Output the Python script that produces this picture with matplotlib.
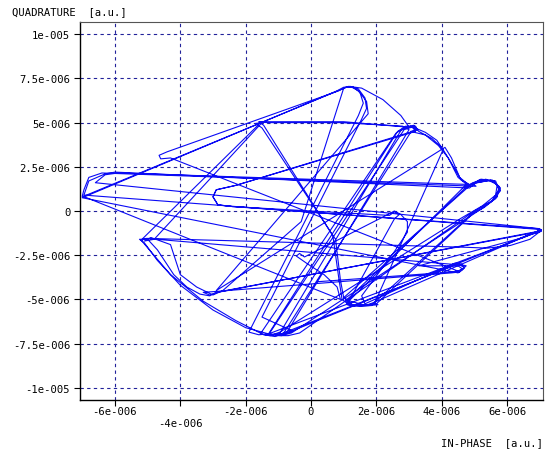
import numpy as np
import matplotlib
matplotlib.use("Agg")
import matplotlib.pyplot as plt
from matplotlib.ticker import FixedLocator

# Impedance-plane trace, in units of 1e-6 (a.u.)
in_phase = [
    # sweep 1
    -7.0, 0.95, 1.15, 1.55, 2.2, 2.75, 3.0, 3.2, 3.25, 3.05, 3.5, 3.9, 4.2, 4.5, 4.8,
    5.1, 5.5, 5.75, 5.7, 5.3, 4.9, 1.9, 1.85, 1.2, 0.95, 0.85, 0.67,
    -1.45, -1.6, -1.4, 1.0, 2.9, 3.15, 3.25, 3.05,
    -0.85, -1.1, -1.45, -2.3, -3.3, -4.3, -4.9, -5.2, -5.05,
    4.55, 4.7, 4.55, 4.3, -2.9, -3.3, -3.1, -2.85, 6.95, 7.05, -6.95,
    # sweep 2
    -6.8, -6.3, -6.0, 4.85, 5.05, 5.55, 5.8, 5.65, 5.2,
    -0.6, -0.9, -1.3, 2.85, 3.1, 3.2,
    -2.3, -2.9, -3.0, -2.85, -2.4, 2.4, 2.55, 2.7, 2.55, 1.1,
    1.3, 1.6, 1.2, 1.0, 4.9,
    # sweep 3
    5.15, 5.6, 5.8, 5.5, 5.0,
    -0.35, -0.7, -1.0,
    2.75, 2.95, 3.2, 3.3, 3.7, 4.05,
    1.95, 2.05, 1.5, 1.1,
    4.7, 4.95, 5.05,
    -6.4, -6.8, -6.95, -7.0,
    -3.7, 0.9, 0.8, 0.4, -0.1, -0.45, -0.35, -0.2,
    2.35, 2.55, 2.75, 2.95, 2.95, 2.55, 1.55, 1.65,
    # sweep 4
    4.4, 4.6, 4.7, 4.5,
    -4.3, -4.6, -4.65, -4.4,
    0.85, 1.05, 1.3, 1.5, 1.6, 1.45,
    -1.9, -1.6, -1.3,
    2.65, 2.9, 3.15, 3.2,
    -2.3, -2.9, -3.0, -2.85, -2.4,
    6.95, 7.05, 6.7, 6.1, 5.4, 4.7,
    -5.0, -5.2,
    -1.65, -1.55, -1.35, 0.9, 2.8, 3.0,
    -0.75,
    # sweep 5
    -1.2, -2.0, -3.0, -4.0, -4.7, -5.1, -5.25, -5.0,
    -4.7, -4.2, -3.8, -3.4, -3.1, -2.9,
    6.9, 7.05, 6.5, 3.3, 4.5, 4.65, 4.5,
    # sweep 6
    -7.0, 0.8, 1.0, 1.25, 1.45, 1.7, 1.75,
    -2.9,
    4.1, 4.3, 4.55, 4.85,
    5.2, 5.65, 5.75, 5.55, 5.1,
    2.0, 1.3, 1.05,
    # sweep 7
    4.75, 4.95, 5.35, 5.7, 5.65, 5.25, 4.6,
    -0.95, -1.25, -1.55,
    2.6, 2.85, 3.05, 3.5, 3.85, 4.05, 4.3, 4.6, 4.85,
    -5.9, -6.3, -6.6,
    7.0, 7.05, 6.6,
    1.95, 1.75, 1.3, 1.0, 0.9, 0.75,
    -1.5, -1.7, -1.5,
    -4.8, -5.1, -4.9,
    -4.3, -4.0, -3.5, -3.0, -2.7,
    -0.3, 1.0, 1.2, 1.45, 1.65, 1.7, 1.55,
    -1.5,
    -0.55, -0.9, -1.3,
    7.0, 7.05,
    -0.8, -1.05,
    4.5, 4.75, 4.6, 4.3, 0.2,
]
quadrature = [
    # sweep 1
    0.8, 6.9, 7.05, 6.95, 6.3, 5.4, 4.75, 4.8, 4.6, 4.5, 4.3, 3.7, 3.0, 1.9, 1.45,
    1.6, 1.75, 1.4, 0.8, 0.2, -0.2, -5.25, -5.35, -5.35, -5.0, -3.8, -1.41,
    4.85, 5.05, 5.05, 5.05, 4.75, 4.85, 4.6, 4.45,
    -6.95, -7.1, -7.0, -6.2, -5.1, -3.6, -2.3, -1.65, -1.55,
    -3.05, -3.2, -3.45, -3.5, -4.55, -4.6, -4.75, -4.6, -1.15, -1.05, 0.9,
    # sweep 2
    1.7, 2.1, 2.2, 1.3, 1.6, 1.75, 1.3, 0.7, 0.1,
    -6.9, -7.05, -7.0, 4.6, 4.75, 4.5,
    1.45, 1.2, 0.8, 0.35, 0.25, -0.25, -0.05, -0.2, -0.45, -5.3,
    -5.4, -5.3, -5.1, -4.9, 1.5,
    # sweep 3
    1.75, 1.7, 1.15, 0.5, 0.0,
    -6.9, -7.05, -7.05,
    4.55, 4.75, 4.7, 4.5, 4.1, 3.5,
    -5.2, -5.3, -5.4, -5.2,
    1.4, 1.55, 1.4,
    2.15, 1.9, 1.2, 0.85,
    -1.6, -5.0, -4.3, -3.6, -3.0, -2.55, -2.4, -2.6,
    -0.2, 0.0, -0.2, -0.6, -1.2, -2.3, -4.8, -5.25,
    # sweep 4
    -2.95, -3.0, -3.2, -3.4,
    3.0, 2.95, 3.15, 3.35,
    6.8, 7.0, 7.0, 6.7, 6.1, 5.4,
    -6.85, -7.0, -6.95,
    4.5, 4.8, 4.75, 4.55,
    1.45, 1.2, 0.8, 0.35, 0.25,
    -1.0, -1.1, -1.6, -1.95, -2.1, -2.05,
    -1.55, -1.65,
    4.8, 5.05, 5.0, 5.0, 4.8, 4.6,
    -6.9,
    # sweep 5
    -7.0, -6.6, -5.6, -4.2, -2.8, -1.8, -1.6, -1.6,
    -2.2, -3.6, -4.3, -4.7, -4.8, -4.6,
    -1.2, -1.05, -1.5, -3.1, -3.1, -3.3, -3.5,
    # sweep 6
    0.75, 6.8, 7.0, 7.0, 6.8, 6.2, 5.5,
    -4.5,
    3.6, 3.0, 1.9, 1.45,
    1.8, 1.7, 1.2, 0.6, 0.1,
    -5.25, -5.35, -5.1,
    # sweep 7
    1.35, 1.6, 1.8, 1.5, 0.9, 0.3, -0.4,
    -6.85, -7.05, -6.95,
    4.4, 4.7, 4.8, 4.45, 4.0, 3.45, 2.7, 1.75, 1.5,
    2.15, 2.05, 1.6,
    -1.0, -1.15, -1.4,
    -5.15, -5.3, -5.35, -4.9, -3.9, -1.6,
    4.7, 4.95, 5.0,
    -1.6, -1.7, -1.5,
    -1.9, -3.6, -4.3, -4.75, -4.5,
    -0.6, 6.95, 7.05, 6.9, 6.4, 5.8, 5.2,
    -6.0,
    -6.8, -7.0, -6.95,
    -1.15, -1.05,
    -6.95, -7.05,
    -3.0, -3.1, -3.35, -3.45, -4.0,
]

x_ticks = [-6e-6, -4e-6, -2e-6, 0, 2e-6, 4e-6, 6e-6]
x_tick_labels = ["-6e-006", "-4e-006", "-2e-006", "0", "2e-006", "4e-006", "6e-006"]
y_ticks = [-1e-5, -7.5e-6, -5e-6, -2.5e-6, 0, 2.5e-6, 5e-6, 7.5e-6, 1e-5]
y_tick_labels = ["-1e-005", "-7.5e-006", "-5e-006", "-2.5e-006", "0",
                 "2.5e-006", "5e-006", "7.5e-006", "1e-005"]

scale = 1e-6
xs = np.array(in_phase) * scale
ys = np.array(quadrature) * scale

mono = "DejaVu Sans Mono"
fs = 7.6
fig = plt.figure(figsize=(5.48, 4.52), dpi=100)
ax = fig.add_axes([80 / 548, 1 - 401 / 452, 463 / 548, 378 / 452])

ax.plot(xs, ys, color="#0a0af5", lw=0.8, solid_joinstyle="round")

ax.set_xlim(-7.07e-6, 7.1e-6)
ax.set_ylim(-1.069e-5, 1.069e-5)
ax.xaxis.set_major_locator(FixedLocator(x_ticks))
ax.yaxis.set_major_locator(FixedLocator(y_ticks))
ax.set_yticklabels(y_tick_labels, fontsize=fs, family=mono)
ax.set_xticklabels([""] * len(x_ticks))
for xv, lab in zip(x_ticks, x_tick_labels):
    off = -0.048 if abs(xv + 4e-6) < 1e-12 else -0.016
    ax.text(xv, off, lab, transform=ax.get_xaxis_transform(), ha="center",
            va="top", fontsize=fs, family=mono, color="black")

ax.grid(True, color="#22229a", linestyle=(0, (3, 3)), lw=0.8)
ax.tick_params(axis="both", length=4, width=0.8, color="black", direction="out", pad=3)
for side in ("right", "top"):
    ax.spines[side].set_color("#555555")
for side in ("left", "bottom"):
    ax.spines[side].set_color("black")
    ax.spines[side].set_linewidth(1.0)

fig.text(12 / 548, 1 - 12 / 452, "QUADRATURE  [a.u.]", fontsize=fs,
         family=mono, va="center", ha="left")
fig.text(543 / 548, 1 - 443 / 452, "IN-PHASE  [a.u.]", fontsize=fs,
         family=mono, va="center", ha="right")

fig.savefig("out.png", dpi=100)
